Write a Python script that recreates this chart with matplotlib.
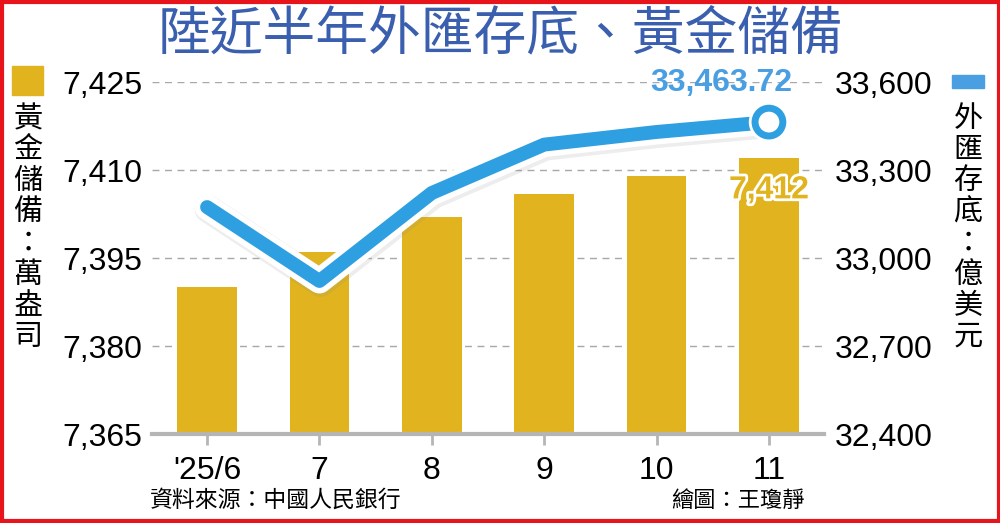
import matplotlib
matplotlib.use("Agg")
import matplotlib.pyplot as plt
import matplotlib.patheffects as pe
from matplotlib.patches import Rectangle

# 資料
months = ["'25/6", "7", "8", "9", "10", "11"]
gold = [7390, 7396, 7402, 7406, 7409, 7412]          # 萬盎司
fx = [33174, 32922, 33222, 33387, 33430, 33463.72]   # 億美元
gold_ticks = [7365, 7380, 7395, 7410, 7425]
fx_ticks = [32400, 32700, 33000, 33300, 33600]

cjk = "Noto Sans CJK TC"
num_font = "Liberation Sans"

GOLD = "#E1B41F"
BLUE = "#2E9FE0"
GRAY = "#b5b5b5"

fig = plt.figure(figsize=(10, 5.23), dpi=100)
ax = fig.add_axes([0.152, 0.170, 0.672, 0.673])
ax2 = ax.twinx()

x = list(range(len(months)))
ax.bar(x, gold, width=0.53, color=GOLD, zorder=2)
ax.set_ylim(gold_ticks[0], gold_ticks[-1])
ax.set_yticks(gold_ticks)
ax.set_yticklabels([f"{v:,}" for v in gold_ticks])
ax.set_xlim(-0.49, 5.49)
ax.set_xticks(x)
ax.set_xticklabels(months)
ax.set_axisbelow(True)
ax.yaxis.grid(True, linestyle=(0, (5, 4)), color="#a8a8a8", lw=1)

# 外匯存底 折線
ax2.plot(x, fx, color=BLUE, lw=10, solid_capstyle="round", solid_joinstyle="round", zorder=5,
         path_effects=[pe.SimpleLineShadow(offset=(1, -1.5), shadow_color="#888888", alpha=0.15, linewidth=20),
                       pe.Stroke(linewidth=18, foreground="white"), pe.Normal()])
ax2.plot(x[-1], fx[-1], "o", ms=20, mfc="white", mec=BLUE, mew=5, zorder=6,
         path_effects=[pe.Stroke(linewidth=9, foreground="white"), pe.Normal()])
ax2.set_ylim(fx_ticks[0], fx_ticks[-1])
ax2.set_yticks(fx_ticks)
ax2.set_yticklabels([f"{v:,}" for v in fx_ticks])

for a in (ax, ax2):
    for s in a.spines.values():
        s.set_visible(False)
    a.tick_params(axis="y", length=0, labelsize=23, labelcolor="black")
    for t in a.get_yticklabels():
        t.set_fontfamily(num_font)
ax.tick_params(axis="y", pad=7)
ax2.tick_params(axis="y", pad=8)
ax.spines["bottom"].set_visible(True)
ax.spines["bottom"].set_color(GRAY)
ax.spines["bottom"].set_linewidth(3)
ax.tick_params(axis="x", length=8, width=2, color=GRAY, labelsize=23, pad=8)
for t in ax.get_xticklabels():
    t.set_fontfamily(num_font)

# 數值標籤
ax2.annotate(f"{fx[-1]:,.2f}", (x[-1], fx[-1]), xytext=(-48, 39), textcoords="offset pixels",
             ha="center", va="center", fontsize=23, color="#4A9FE3", fontweight="bold",
             fontfamily=num_font)
ax.annotate(f"{gold[-1]:,}", (x[-1], gold[-1]), xytext=(0, -32), textcoords="offset pixels",
            ha="center", va="center", fontsize=23, color=GOLD, fontweight="bold",
            fontfamily=num_font, zorder=7,
            path_effects=[pe.Stroke(linewidth=4, foreground="white"), pe.Normal()])

# 標題與圖例
fig.text(0.5, 0.935, "陸近半年外匯存底、黃金儲備", ha="center", va="center",
         fontsize=38, color="#3A5FAE", fontfamily=cjk, fontweight="medium")
fig.patches.append(Rectangle((12 / 1000, 1 - 95 / 523), 31 / 1000, 29 / 523,
                             transform=fig.transFigure, color=GOLD))
fig.text(28 / 1000, 1 - 104 / 523, "\n".join("黃金儲備：萬盎司"), ha="center", va="top",
         fontsize=21, fontfamily=cjk, linespacing=1.05)
fig.patches.append(Rectangle((952 / 1000, 1 - 88 / 523), 32 / 1000, 13 / 523,
                             transform=fig.transFigure, color="#4A9FE3"))
fig.text(968 / 1000, 1 - 104 / 523, "\n".join("外匯存底：億美元"), ha="center", va="top",
         fontsize=21, fontfamily=cjk, linespacing=1.05)

fig.text(150 / 1000, 1 - 500 / 523, "資料來源：中國人民銀行", ha="left", va="center",
         fontsize=16.5, fontfamily=cjk)
fig.text(805 / 1000, 1 - 500 / 523, "繪圖：王瓊靜", ha="right", va="center",
         fontsize=16, fontfamily=cjk)

# 紅框
fig.patches.append(Rectangle((0.0015, 0.003), 0.997, 0.994, transform=fig.transFigure,
                             fill=False, edgecolor="#E8141B", lw=3))

fig.savefig("out.png", dpi=100)
